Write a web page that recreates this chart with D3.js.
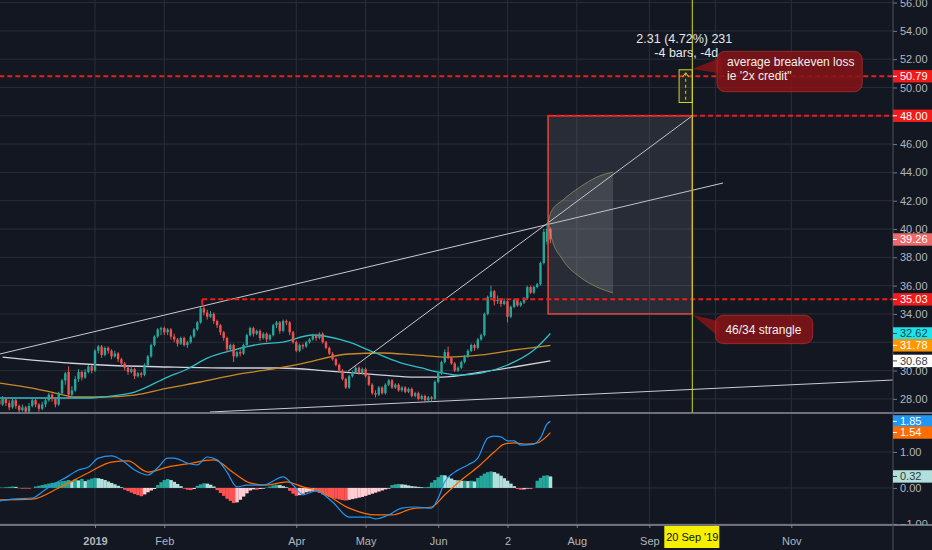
<!DOCTYPE html>
<html>
<head>
<meta charset="utf-8">
<script src="https://cdn.jsdelivr.net/npm/d3@7"></script>
<style>
  html, body { margin: 0; padding: 0; background: #131722; }
  svg { display: block; font-family: "Liberation Sans", Arial, sans-serif; }
</style>
</head>
<body>
<svg id="chart" width="932" height="550"></svg>
<script>
// ---- data (bar index 0 = 2 Jan 2019, one index per trading day) ----
const firstBar = -29;

// [open, high, low, close]
const candles = [
  [27.9,28.1,27.4,27.6],[27.6,28.2,27.5,28.0],[28.0,28.1,27.5,27.7],[27.7,27.9,27.2,27.4],
  [27.4,28.0,27.3,27.9],[27.9,28.0,27.3,27.5],[27.5,27.6,27.0,27.2],[27.2,27.6,27.1,27.4],
  [27.4,27.5,26.9,27.1],[27.1,27.7,27.0,27.5],[27.5,28.0,27.4,27.9],[27.9,28.0,27.4,27.6],
  [27.6,27.7,27.1,27.3],[27.3,27.8,27.2,27.6],[27.6,28.0,27.4,27.9],[27.9,28.4,27.8,28.3],
  [28.3,28.4,27.8,28.0],[28.0,28.1,27.4,27.6],[27.6,28.5,27.5,28.4],[28.4,29.4,28.3,29.3],
  [29.3,29.9,29.0,29.8],[29.9,30.3,28.0,28.3],[28.3,28.9,28.1,28.6],[28.6,29.6,28.5,29.4],
  [29.4,30.1,29.2,29.9],[29.9,30.0,29.3,29.5],[29.5,30.1,29.4,29.9],[29.9,30.4,29.8,30.3],
  [30.3,30.4,29.8,30.0],
  [30.0,31.5,29.9,31.4],[31.4,31.8,31.2,31.7],[31.7,31.8,30.9,31.1],[31.1,31.7,31.0,31.6],
  [31.6,31.7,31.2,31.4],[31.4,31.5,30.8,31.0],[31.0,31.4,30.9,31.2],[31.2,31.3,30.6,30.8],
  [30.8,30.9,30.3,30.5],[30.5,30.6,30.0,30.2],[30.2,30.3,29.7,29.9],[29.9,30.3,29.8,30.1],
  [30.1,30.2,29.4,29.6],[29.6,29.9,29.5,29.8],[29.8,29.9,29.5,29.7],[29.7,30.5,29.6,30.4],
  [30.4,31.1,30.3,31.0],[31.0,31.9,30.9,31.8],[31.8,32.5,31.7,32.4],[32.4,33.0,32.3,32.9],
  [32.9,33.1,32.5,33.0],[33.0,33.1,32.5,32.7],[32.7,33.0,32.5,32.9],[32.9,33.0,32.2,32.4],
  [32.4,32.6,32.0,32.2],[32.2,32.3,31.7,31.9],[31.9,32.4,31.8,32.3],[32.3,32.4,31.7,31.8],
  [31.8,32.1,31.6,32.0],[32.0,32.5,31.9,32.4],[32.4,33.0,32.3,32.9],[32.9,33.5,32.8,33.4],
  [33.4,34.5,33.3,34.4],[34.4,34.6,33.9,34.1],[34.1,34.3,33.6,33.8],[33.8,34.2,33.7,34.0],
  [34.0,34.1,33.3,33.5],[33.5,33.6,33.0,33.2],[33.2,33.3,32.5,32.7],[32.7,32.8,32.1,32.3],
  [32.3,32.4,31.3,31.5],[31.5,31.9,31.4,31.8],[31.8,31.9,30.6,31.0],[31.0,31.4,30.9,31.3],
  [31.3,31.5,31.0,31.2],[31.2,31.9,31.1,31.8],[31.8,32.6,31.7,32.5],[32.5,33.1,32.4,33.0],
  [33.0,33.1,32.4,32.6],[32.6,32.9,32.5,32.8],[32.8,32.9,32.1,32.3],[32.3,32.7,32.2,32.6],
  [32.6,32.7,32.0,32.2],[32.2,32.6,32.1,32.5],[32.5,33.3,32.4,33.2],[33.2,33.5,33.0,33.4],
  [33.4,33.5,32.6,32.8],[32.8,33.6,32.7,33.5],[33.5,33.6,33.2,33.4],[33.4,33.5,32.5,32.7],
  [32.7,32.8,31.9,32.0],[32.0,32.1,31.3,31.4],[31.4,31.9,31.3,31.8],[31.8,31.9,31.5,31.7],
  [31.7,32.1,31.6,32.0],[32.0,32.3,31.9,32.2],[32.2,32.6,32.1,32.5],[32.5,32.6,32.1,32.3],
  [32.3,32.7,32.2,32.6],[32.6,32.7,31.9,32.0],[32.0,32.1,31.5,31.6],[31.6,31.7,31.1,31.2],
  [31.2,31.3,30.7,30.8],[30.8,30.9,30.3,30.4],[30.4,30.5,29.9,30.0],[30.0,30.1,29.3,29.4],
  [29.4,29.5,28.7,28.8],[28.8,29.7,28.7,29.6],[29.6,30.0,29.5,29.9],[29.9,30.3,29.8,30.2],
  [30.2,30.3,29.7,29.8],[29.8,30.2,29.7,30.1],[30.1,30.2,29.5,29.6],[29.6,29.7,28.9,29.0],
  [29.0,29.1,28.3,28.4],[28.4,28.6,28.1,28.3],[28.3,28.9,28.2,28.8],[28.8,28.9,28.3,28.4],
  [28.4,29.1,28.3,29.0],[29.0,29.4,28.9,29.3],[29.3,29.4,28.7,28.8],[28.8,29.1,28.7,29.0],
  [29.0,29.1,28.5,28.6],[28.6,28.9,28.5,28.8],[28.8,28.9,28.4,28.5],[28.5,28.8,28.4,28.7],
  [28.7,28.8,28.1,28.2],[28.2,28.5,28.1,28.4],[28.4,28.5,27.9,28.0],[28.0,28.3,27.9,28.2],
  [28.2,28.3,27.8,27.9],[27.9,28.2,27.8,28.1],[28.1,28.2,27.8,28.0],[28.0,29.3,27.9,29.2],
  [29.2,29.9,29.1,29.8],[29.8,30.7,29.7,30.6],[30.6,31.5,30.5,31.3],[31.3,31.7,30.8,30.9],
  [30.9,31.0,30.4,30.5],[30.5,30.6,29.9,30.0],[30.0,30.3,29.9,30.2],[30.2,30.7,30.1,30.6],
  [30.6,31.1,30.5,31.0],[31.0,31.5,30.9,31.4],[31.4,31.9,31.3,31.8],[31.8,31.9,31.4,31.6],
  [31.6,32.3,31.5,32.2],[32.2,32.6,32.1,32.5],[32.5,34.1,32.4,34.0],[34.0,35.3,33.9,35.2],
  [35.2,36.0,35.0,35.6],[35.6,35.7,34.6,34.9],[34.9,35.3,34.7,35.0],[35.0,35.1,34.5,34.7],
  [34.7,35.1,34.6,34.9],[34.9,35.0,33.4,33.8],[33.8,34.6,33.7,34.5],[34.5,35.1,34.4,35.0],
  [35.0,35.1,34.5,34.6],[34.6,34.9,34.5,34.8],[34.8,35.2,34.7,35.1],[35.1,36.0,35.0,35.9],
  [35.9,36.0,35.4,35.5],[35.5,36.0,35.4,35.9],[35.9,36.2,35.8,36.1],[36.1,37.7,36.0,37.6],
  [37.6,40.0,37.5,39.8],[39.1,40.4,38.9,40.0],[40.0,40.1,39.0,39.26]
];

// moving averages, sampled as [bar index, price]
const cyanMA = [[-29,28.06],[-1,28.06],[2,28.13],[12,28.48],[22,29.54],[28,30.11],[34,30.88],
  [42,31.45],[50,31.87],[57,32.01],[66,32.51],[71,32.37],[77,32.01],[85,31.24],[92,30.6],
  [99,30.18],[104,29.89],[110,29.68],[117,29.82],[125,30.39],[133,31.45],[138,32.62]];
const orangeMA = [[-29,29.12],[-19,28.76],[-12,28.41],[-6,28.13],[2,28.13],[12,28.27],[22,28.76],
  [32,29.19],[42,29.68],[52,30.04],[62,30.46],[77,31.17],[87,31.24],[97,31.1],[107,30.95],
  [117,31.1],[127,31.45],[138,31.78]];
const whiteMA = [[-28,30.95],[-19,30.74],[2,30.39],[22,30.25],[40,30.18],[56,30.18],[71,29.96],
  [87,29.68],[97,29.54],[105,29.54],[117,29.89],[127,30.25],[138,30.68]];

// MACD lines, sampled as [bar index, value]
const macdLine = [[-29,-0.36],[-25,-0.31],[-19,-0.28],[-16,-0.11],[-13,0.08],[-9,0.28],[-5,0.5],
  [-2,0.58],[1,0.83],[5,0.89],[8,0.78],[12,0.5],[16,0.36],[19,0.56],[22,0.83],[24,0.83],[28,0.69],
  [31,0.64],[34,0.86],[37,0.78],[40,0.44],[43,0.03],[46,0.08],[51,0.08],[57,0.31],[60,0.08],
  [63,-0.19],[67,-0.08],[72,-0.39],[77,-0.81],[83,-0.81],[85,-0.86],[89,-0.75],[93,-0.56],
  [97,-0.53],[102,-0.56],[104,-0.28],[106,0.17],[109,0.44],[113,0.64],[116,0.83],[119,1.39],
  [121,1.44],[123,1.42],[125,1.31],[127,1.31],[129,1.19],[133,1.22],[135,1.39],[137,1.78],[138,1.85]];
const signalLine = [[-29,-0.33],[-19,-0.31],[-11,0.0],[-2,0.42],[5,0.72],[10,0.75],[16,0.44],
  [22,0.58],[28,0.67],[36,0.78],[42,0.42],[47,0.14],[52,0.08],[58,0.17],[63,0.03],[68,-0.08],
  [77,-0.56],[85,-0.75],[90,-0.75],[96,-0.58],[102,-0.53],[106,-0.19],[111,0.22],[116,0.58],
  [121,1.0],[124,1.22],[127,1.25],[131,1.22],[134,1.25],[138,1.54]];

// MACD histogram, one value per bar from firstBar
const histogram = [
  0.01,0.01,0.02, 0.03,0.04,0.03, -0.01,-0.02,-0.01,-0.02,0.00,
  0.04,0.06,0.08,0.10,0.12,0.14,0.15,
  0.17,0.19,0.20,0.22,0.18,0.24,0.21,0.25,0.19,0.23,0.26,
  0.28,0.27,0.25, 0.22,0.18,0.14,0.10,0.06,0.02,
  -0.05,-0.09,-0.13,-0.17,-0.20,-0.23,-0.18,-0.12, -0.07,-0.03,
  0.08,0.16,0.22,0.25,0.22,0.17,0.11,0.05, -0.02,-0.05,-0.06,-0.03,
  0.06,0.10,0.13,0.12,0.09,0.04,
  -0.06,-0.14,-0.22,-0.30,-0.36,-0.42,-0.40,-0.33,-0.24,-0.15,-0.07,
  -0.04,-0.05,-0.03,-0.02,0.01, 0.04,0.07,0.09,0.08,0.05,0.02,
  -0.08,-0.16,-0.22,-0.20, -0.16,-0.12,-0.10,-0.08,-0.10,
  -0.14,-0.18,-0.22,-0.25,-0.28,-0.30,-0.32,-0.34,-0.35,
  -0.33,-0.31,-0.29,-0.27,-0.25,-0.22,-0.19,-0.16,-0.13,-0.10,-0.07,-0.04, -0.02,
  0.08,0.10,0.11,0.10,0.09,0.07, 0.05,0.04,0.03,0.02,0.02,0.03,
  0.15,0.22,0.30, 0.36,0.35, 0.30,0.26,0.22, 0.21,0.20,0.20,0.19,0.20,0.18,
  0.28,0.34,0.40,0.44, 0.46,0.44, 0.40,0.34,0.27,0.20,0.12,0.05,
  -0.03,-0.05,-0.04, -0.02,-0.03,0.00, 0.20,0.28,0.34, 0.35,0.32
];

// drawings: [bar index, price]
const trendUpper = [[-28.8,31.17],[190.3,43.25]];
const trendSteep = [[76.7,29.96],[181,48.0]];
const trendSupport = [[34.8,27.07],[241.8,29.33]];
const strangleBox = { from: 137.3, to: 181, low: 34.0, high: 48.0 };
const coneIdx = [137.3, 138.2, 141.8, 147, 152.1, 157];
const coneUpper = [40.5, 41.2, 42.05, 42.97, 43.67, 44.03];
const coneLower = [40.5, 39.5, 37.81, 36.6, 35.9, 35.48];
const levels = [
  { price: 50.79, from: -29 },
  { price: 48.00, from: 137.3 },
  { price: 35.03, from: 32.5 }
];
const measure = { from: 181, to: 177, p0: 48.94, p1: 51.25 };
const dateLine = 181;

// axes (price ticks hidden behind the 48.00 and 31.78 tags are left out)
const priceTicks = [28, 30, 34, 36, 38, 40, 42, 44, 46, 50, 52, 54, 56];
const priceGrid = [28, 30, 32, 34, 36, 38, 40, 42, 44, 46, 48, 50, 52, 54, 56];
const macdTicks = [-1, 0, 1];
const monthTicks = [0, 21, 61, 82, 104, 125, 146, 168, 188, 211];
const monthLabels = ["2019", "Feb", "Apr", "May", "Jun", "2", "Aug", "Sep", "", "Nov"];

// ---- layout ----
const W = 932, H = 550;
const plotRight = 893, mainBottom = 413, macdBottom = 525;
const upColor = "#26a69a", downColor = "#ef5350";

const x = d3.scaleLinear().domain([-28.79, 241.82]).range([0, plotRight]);
const y = d3.scaleLinear().domain([27.0, 56.18]).range([mainBottom, 0]);
const ym = d3.scaleLinear().domain([-1.03, 2.083]).range([macdBottom, mainBottom]);

const svg = d3.select("#chart");
svg.append("rect").attr("width", W).attr("height", H).attr("fill", "#131722");

const defs = svg.append("defs");
defs.append("clipPath").attr("id", "clipMain")
  .append("rect").attr("width", plotRight).attr("height", mainBottom);
defs.append("clipPath").attr("id", "clipMacd")
  .append("rect").attr("y", mainBottom).attr("width", plotRight).attr("height", macdBottom - mainBottom);
defs.append("clipPath").attr("id", "clipMacdAxis")
  .append("rect").attr("x", -2).attr("y", mainBottom).attr("width", 60).attr("height", macdBottom - mainBottom);

// grid
const grid = svg.append("g").attr("stroke", "#2a2e39").attr("stroke-width", 1);
grid.selectAll("line.vg").data(monthTicks).join("line").attr("class", "vg")
  .attr("x1", d => x(d)).attr("x2", d => x(d)).attr("y1", 0).attr("y2", macdBottom);
grid.selectAll("line.hg").data(priceGrid).join("line").attr("class", "hg")
  .attr("x1", 0).attr("x2", plotRight).attr("y1", d => y(d)).attr("y2", d => y(d));
grid.selectAll("line.mg").data(macdTicks).join("line").attr("class", "mg")
  .attr("x1", 0).attr("x2", plotRight).attr("y1", d => ym(d)).attr("y2", d => ym(d));

// ---- main pane ----
const main = svg.append("g").attr("clip-path", "url(#clipMain)");
const curve = d3.line().x(d => x(d[0])).y(d => y(d[1])).curve(d3.curveMonotoneX);
const straight = d3.line().x(d => x(d[0])).y(d => y(d[1]));

main.append("path").datum(whiteMA).attr("d", curve).attr("fill", "none")
  .attr("stroke", "#d1d4dc").attr("stroke-width", 1.3);
main.append("path").datum(orangeMA).attr("d", curve).attr("fill", "none")
  .attr("stroke", "#c98a26").attr("stroke-width", 1.3);
main.append("path").datum(cyanMA).attr("d", curve).attr("fill", "none")
  .attr("stroke", "#2fbfc6").attr("stroke-width", 1.3);

[trendUpper, trendSteep, trendSupport].forEach(t => {
  main.append("path").datum(t).attr("d", straight).attr("fill", "none")
    .attr("stroke", "#c8cad0").attr("stroke-width", 1);
});

const bars = candles.map((c, k) => ({ i: firstBar + k, o: c[0], h: c[1], l: c[2], c: c[3] }));
main.selectAll("line.wick").data(bars).join("line").attr("class", "wick")
  .attr("x1", d => x(d.i)).attr("x2", d => x(d.i))
  .attr("y1", d => y(d.h)).attr("y2", d => y(d.l))
  .attr("stroke", d => d.c >= d.o ? upColor : downColor).attr("stroke-width", 1);
main.selectAll("rect.body").data(bars).join("rect").attr("class", "body")
  .attr("x", d => x(d.i) - 1.2).attr("width", 2.4)
  .attr("y", d => y(Math.max(d.o, d.c)))
  .attr("height", d => Math.max(1, Math.abs(y(d.o) - y(d.c))))
  .attr("fill", d => d.c >= d.o ? upColor : downColor);

// strangle box
main.append("rect")
  .attr("x", x(strangleBox.from)).attr("y", y(strangleBox.high))
  .attr("width", x(strangleBox.to) - x(strangleBox.from))
  .attr("height", y(strangleBox.low) - y(strangleBox.high))
  .attr("fill", "rgba(150,153,165,0.16)")
  .attr("stroke", "#e0483c").attr("stroke-width", 1.5);

// projection cone
main.append("path").datum(coneIdx.map((d, k) => ({ i: d, u: coneUpper[k], l: coneLower[k] })))
  .attr("d", d3.area().x(d => x(d.i)).y0(d => y(d.l)).y1(d => y(d.u)).curve(d3.curveMonotoneX))
  .attr("fill", "rgba(200,200,195,0.17)");
[coneUpper, coneLower].forEach(arr => {
  main.append("path").datum(coneIdx.map((d, k) => [d, arr[k]])).attr("d", curve)
    .attr("fill", "none").attr("stroke", "rgba(190,170,110,0.55)").attr("stroke-width", 1);
});

// dashed levels
main.selectAll("line.level").data(levels).join("line").attr("class", "level")
  .attr("x1", d => x(d.from)).attr("x2", plotRight)
  .attr("y1", d => y(d.price)).attr("y2", d => y(d.price))
  .attr("stroke", "#ee1c1c").attr("stroke-width", 2).attr("stroke-dasharray", "5,3");
main.append("line")
  .attr("x1", x(32.5)).attr("x2", x(32.5)).attr("y1", y(35.03)).attr("y2", y(34.6))
  .attr("stroke", "#ee1c1c").attr("stroke-width", 2);

// date line
main.append("line").attr("x1", x(dateLine)).attr("x2", x(dateLine))
  .attr("y1", 0).attr("y2", mainBottom).attr("stroke", "#d6d622").attr("stroke-width", 1);

// measure tool
const mx0 = x(measure.to), mx1 = x(measure.from);
const my0 = y(measure.p1), my1 = y(measure.p0);
const mxc = (mx0 + mx1) / 2;
main.append("rect").attr("x", mx0).attr("y", my0).attr("width", mx1 - mx0).attr("height", my1 - my0)
  .attr("fill", "rgba(214,214,34,0.08)").attr("stroke", "#d6d622").attr("stroke-width", 1);
main.append("line").attr("x1", mxc).attr("x2", mxc)
  .attr("y1", my0 + 3).attr("y2", my1 - 2)
  .attr("stroke", "#d6d622").attr("stroke-dasharray", "3,3");
main.append("path")
  .attr("d", `M${mxc - 3},${my0 + 7}L${mxc},${my0 + 3}L${mxc + 3},${my0 + 7}`)
  .attr("fill", "none").attr("stroke", "#d6d622");
main.append("text").attr("x", mx1 - 8).attr("y", my0 - 27).attr("text-anchor", "middle")
  .attr("fill", "#e8e8e8").attr("font-size", 12.5).text("2.31 (4.72%) 231");
main.append("text").attr("x", mx1 - 6).attr("y", my0 - 13).attr("text-anchor", "middle")
  .attr("fill", "#e8e8e8").attr("font-size", 12.5).text("-4 bars, -4d");

// callouts
function callout(tipI, tipP, i0, i1, pTop, pBot, lines) {
  const tx = x(tipI), ty = y(tipP);
  const bx0 = x(i0), bx1 = x(i1), by0 = y(pTop), by1 = y(pBot);
  const g = main.append("g");
  g.append("path")
    .attr("d", `M${tx},${ty}L${bx0 + 4},${by0 + 6}L${bx0 + 4},${Math.min(by1 - 4, by0 + 22)}Z`)
    .attr("fill", "rgba(135,20,22,0.85)");
  g.append("rect").attr("x", bx0).attr("y", by0).attr("width", bx1 - bx0).attr("height", by1 - by0)
    .attr("rx", 8).attr("fill", "rgba(135,20,22,0.85)").attr("stroke", "rgba(190,45,45,0.7)");
  lines.forEach((t, k) => {
    g.append("text").attr("x", bx0 + 10).attr("y", by0 + 15 + k * 13.5 + (lines.length === 1 ? 4 : 0))
      .attr("fill", "#f0f0f0").attr("font-size", 12).text(t);
  });
}
callout(181, 51.3, 188.5, 232.5, 52.55, 49.7, ["average breakeven loss", "ie '2x credit\""]);
callout(181, 33.95, 188, 217.5, 33.9, 31.9, ["46/34 strangle"]);

// ---- MACD pane ----
const macd = svg.append("g").attr("clip-path", "url(#clipMacd)");
const hist = histogram.map((v, k) => ({ i: firstBar + k, v, prev: k > 0 ? histogram[k - 1] : v }));
const histColor = d => d.v >= 0 ? (d.v >= d.prev ? "#26a69a" : "#b2dfdb")
                                : (d.v <= d.prev ? "#ff5252" : "#ffcdd2");
const barW = x(1) - x(0);
macd.selectAll("rect.hist").data(hist).join("rect").attr("class", "hist")
  .attr("x", d => x(d.i) - barW / 2).attr("width", barW + 0.2)
  .attr("y", d => ym(Math.max(0, d.v)))
  .attr("height", d => Math.abs(ym(d.v) - ym(0)))
  .attr("fill", histColor);
const mcurve = d3.line().x(d => x(d[0])).y(d => ym(d[1])).curve(d3.curveMonotoneX);
macd.append("path").datum(signalLine).attr("d", mcurve).attr("fill", "none")
  .attr("stroke", "#ff6d00").attr("stroke-width", 1.2);
macd.append("path").datum(macdLine).attr("d", mcurve).attr("fill", "none")
  .attr("stroke", "#2196f3").attr("stroke-width", 1.2);

// ---- axes ----
const axisColor = "#b2b5be";
function styleAxis(g) {
  g.select(".domain").remove();
  g.selectAll(".tick line").attr("stroke", "#787b86");
  g.selectAll(".tick text").attr("fill", axisColor).attr("font-size", 11)
    .attr("font-family", "Liberation Sans, Arial, sans-serif");
}
svg.append("g").attr("transform", `translate(${plotRight},0)`)
  .call(d3.axisRight(y).tickValues(priceTicks).tickSize(4).tickPadding(3).tickFormat(d3.format(".2f")))
  .call(styleAxis);
svg.append("g").attr("transform", `translate(${plotRight},0)`)
  .attr("clip-path", "url(#clipMacdAxis)")
  .call(d3.axisRight(ym).tickValues(macdTicks).tickSize(4).tickPadding(3).tickFormat(d3.format(".2f")))
  .call(styleAxis);

svg.append("g").attr("transform", `translate(0,${macdBottom})`)
  .call(d3.axisBottom(x).tickValues(monthTicks).tickSize(3).tickPadding(9)
    .tickFormat((d, k) => monthLabels[k]))
  .call(styleAxis)
  .call(g => g.selectAll(".tick text").attr("font-weight", (d, k) => monthLabels[k] === "2019" ? "bold" : null));

// pane borders
const borders = svg.append("g").attr("stroke", "#8c8f99").attr("stroke-width", 1.5);
borders.append("line").attr("x1", 0).attr("x2", W).attr("y1", mainBottom).attr("y2", mainBottom);
borders.append("line").attr("x1", 0).attr("x2", W).attr("y1", macdBottom).attr("y2", macdBottom);
borders.append("line").attr("x1", plotRight).attr("x2", plotRight).attr("y1", 0).attr("y2", H)
  .attr("stroke", "#50535e").attr("stroke-width", 1);

// price tags
const tags = svg.append("g");
function tag(yPos, text, bg, fg) {
  const g = tags.append("g").attr("transform", `translate(${plotRight},${yPos})`);
  g.append("rect").attr("x", 0).attr("y", -6.2).attr("width", W - plotRight).attr("height", 12.4).attr("fill", bg);
  g.append("line").attr("x1", 0).attr("x2", 4).attr("stroke", fg);
  g.append("text").attr("x", 7).attr("dy", "0.35em").attr("font-size", 11).attr("fill", fg).text(text);
}
tag(y(50.79), "50.79", "#f21b1b", "#ffffff");
tag(y(48.00), "48.00", "#f21b1b", "#ffffff");
tag(y(39.26), "39.26", "#ec6a6a", "#ffffff");
tag(y(35.03), "35.03", "#f21b1b", "#ffffff");
tag(y(32.62), "32.62", "#1fe3ea", "#0d4a4c");
tag(y(31.78), "31.78", "#ff9800", "#ffffff");
tag(y(30.68), "30.68", "#ffffff", "#3a3d45");
tag(Math.max(ym(1.85), mainBottom + 6), "1.85", "#2196f3", "#ffffff");
tag(ym(1.54), "1.54", "#ff6d00", "#ffffff");
tag(ym(0.32), "0.32", "#b2dfdb", "#2f3a3a");

// date tag on time axis
const dg = svg.append("g").attr("transform", `translate(${x(dateLine)},${macdBottom})`);
dg.append("rect").attr("x", -28).attr("y", 1).attr("width", 55).attr("height", 22).attr("fill", "#f5f000");
dg.append("text").attr("y", 16).attr("text-anchor", "middle").attr("font-size", 11)
  .attr("fill", "#111").text("20 Sep '19");
</script>
</body>
</html>
